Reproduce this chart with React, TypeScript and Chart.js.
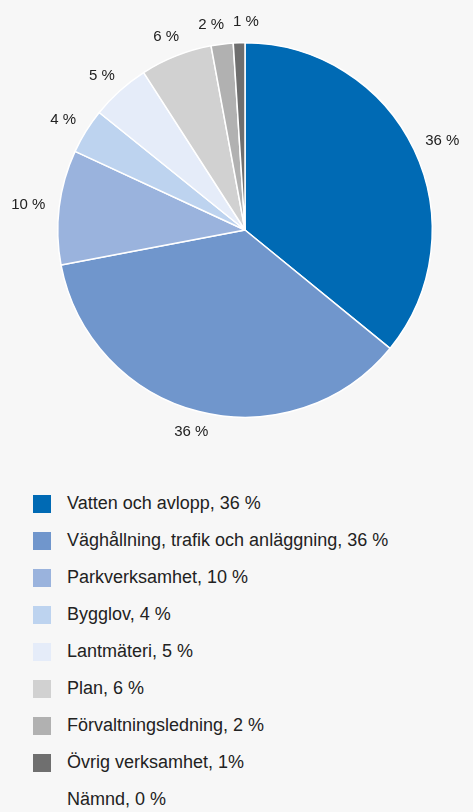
import React, { useEffect, useRef } from "react";
import { Chart, registerables } from "chart.js";

Chart.register(...registerables);

const categories = [
  "Vatten och avlopp",
  "Väghållning, trafik och anläggning",
  "Parkverksamhet",
  "Bygglov",
  "Lantmäteri",
  "Plan",
  "Förvaltningsledning",
  "Övrig verksamhet",
  "Nämnd",
];
const values = [35.9, 36.1, 9.9, 3.9, 5.1, 6.2, 1.9, 1.0, 0];
const pieLabels = ["36 %", "36 %", "10 %", "4 %", "5 %", "6 %", "2 %", "1 %", ""];
const legendLabels = [
  "Vatten och avlopp, 36 %",
  "Väghållning, trafik och anläggning, 36 %",
  "Parkverksamhet, 10 %",
  "Bygglov, 4 %",
  "Lantmäteri, 5 %",
  "Plan, 6 %",
  "Förvaltningsledning, 2 %",
  "Övrig verksamhet, 1%",
  "Nämnd, 0 %",
];
const colors = [
  "#006ab4",
  "#7096cc",
  "#9ab3dd",
  "#bdd3ef",
  "#e5ecf9",
  "#d1d1d1",
  "#b1b1b1",
  "#6f6f6f",
  "rgba(0,0,0,0)",
];

const BG = "#f7f7f7";
const FONT = '"Liberation Sans", Arial, sans-serif';

const outLabels = {
  id: "outLabels",
  afterDatasetsDraw(chart: any) {
    const ctx = chart.ctx;
    const meta = chart.getDatasetMeta(0);
    ctx.save();
    ctx.font = `15px ${FONT}`;
    ctx.fillStyle = "#222";
    ctx.textAlign = "center";
    ctx.textBaseline = "middle";
    const items: any[] = [];
    meta.data.forEach((arc: any, i: number) => {
      const label = pieLabels[i];
      if (!label || !values[i]) return;
      const p = arc.getProps(["x", "y", "startAngle", "endAngle", "outerRadius"], true);
      items.push({
        label,
        x: p.x,
        y: p.y,
        R: p.outerRadius + 14,
        a: (p.startAngle + p.endAngle) / 2,
        w: ctx.measureText(label).width,
        h: 13,
      });
    });
    const place = (it: any) => {
      const c = Math.cos(it.a);
      const s = Math.sin(it.a);
      it.cx = it.x + c * it.R + (c * it.w) / 2;
      it.cy = it.y + s * it.R + (s * it.h) / 2;
    };
    items.forEach(place);
    const pad = 8;
    for (let iter = 0; iter < 200; iter++) {
      let moved = false;
      for (let k = 0; k < items.length - 1; k++) {
        const A = items[k];
        const B = items[k + 1];
        if (
          Math.abs(A.cx - B.cx) < (A.w + B.w) / 2 + pad &&
          Math.abs(A.cy - B.cy) < (A.h + B.h) / 2 + pad
        ) {
          const step = 0.004;
          A.a -= step;
          B.a += step;
          place(A);
          place(B);
          moved = true;
        }
      }
      if (!moved) break;
    }
    items.forEach((it) => ctx.fillText(it.label, it.cx, it.cy));
    ctx.restore();
  },
};

export default function App() {
  const ref = useRef<HTMLCanvasElement | null>(null);

  useEffect(() => {
    document.body.style.margin = "0";
    document.body.style.background = BG;
    const chart = new Chart(ref.current as HTMLCanvasElement, {
      type: "pie",
      data: {
        labels: categories,
        datasets: [
          {
            data: values,
            backgroundColor: colors,
            borderColor: "#ffffff",
            borderWidth: 1.5,
          },
        ],
      },
      options: {
        animation: false,
        responsive: false,
        maintainAspectRatio: false,
        layout: { padding: { left: 57, right: 40, top: 42, bottom: 42 } },
        plugins: {
          legend: { display: false },
          tooltip: { enabled: false },
        },
      },
      plugins: [outLabels],
    });
    return () => chart.destroy();
  }, []);

  return (
    <div
      style={{
        position: "relative",
        width: 473,
        height: 812,
        background: BG,
        overflow: "hidden",
        fontFamily: FONT,
      }}
    >
      <canvas ref={ref} width={473} height={460} style={{ display: "block" }} />
      <div style={{ position: "absolute", left: 33, top: 485 }}>
        {legendLabels.map((t, i) => (
          <div
            key={t}
            style={{ display: "flex", alignItems: "center", height: 37 }}
          >
            <div
              style={{
                width: 18,
                height: 18,
                background: colors[i],
                marginRight: 16,
                flex: "none",
              }}
            />
            <span style={{ fontSize: 18, color: "#222", whiteSpace: "nowrap" }}>{t}</span>
          </div>
        ))}
      </div>
    </div>
  );
}
